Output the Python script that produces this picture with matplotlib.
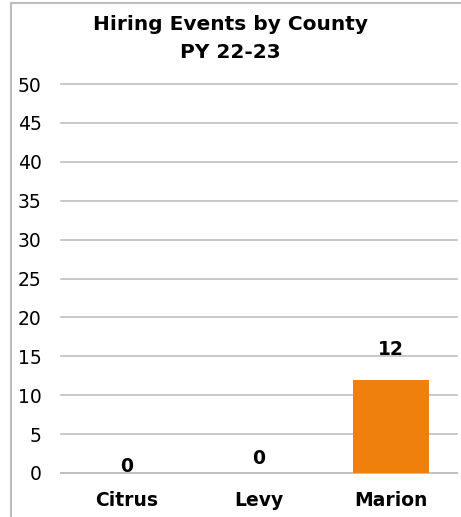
import matplotlib.pyplot as plt
from matplotlib.lines import Line2D

counties = ["Citrus", "Levy", "Marion"]
events = [0, 0, 12]
label_offsets = [6, 15, 30]  # px above bar top, as in the original

bar_color = "#F0800C"
grid_color = "#BFBFBF"

plt.rcParams['font.family'] = ['DejaVu Sans']

fig = plt.figure(figsize=(4.61, 5.17), dpi=100)
ax = fig.add_axes([61/461, 1 - 473/517, 396/461, 389/517])

x = range(len(counties))
ax.bar(x, events, width=0.58, color=bar_color, zorder=3)

ax.set_ylim(0, 50)
ax.set_xlim(-0.5, len(counties) - 0.5)
ax.set_yticks(range(0, 51, 5))
ax.yaxis.grid(True, color=grid_color, linewidth=1.2)
for gl in ax.get_ygridlines():
    gl.set_clip_on(False)
ax.set_axisbelow(True)
for s in ["top", "right", "left"]:
    ax.spines[s].set_visible(False)
ax.spines["bottom"].set_color(grid_color)
ax.spines["bottom"].set_linewidth(1.2)
ax.tick_params(axis="both", length=0, labelsize=13.5, colors="black")
ax.tick_params(axis="y", pad=14)
ax.tick_params(axis="x", pad=13)
ax.set_xticks(list(x))
ax.set_xticklabels(counties, fontweight="bold")

for i, v in enumerate(events):
    ax.annotate(str(v), (i, v), xytext=(0, label_offsets[i] * 72 / 100),
                textcoords="offset points", ha="center", va="center",
                fontsize=13.5, fontweight="bold")

fig.text(0.5, 1 - 25/517, "Hiring Events by County", ha="center", va="center",
         fontsize=14.5, fontweight="bold")
fig.text(0.5, 1 - 52/517, "PY 22-23", ha="center", va="center",
         fontsize=14.5, fontweight="bold")

# outer chart border (top and left visible)
fig.add_artist(Line2D([10.5/461, 1], [1 - 3/517, 1 - 3/517], color="#BDBDBD", linewidth=1.5, transform=fig.transFigure))
fig.add_artist(Line2D([10.5/461, 10.5/461], [0, 1 - 3/517], color="#BDBDBD", linewidth=1.5, transform=fig.transFigure))

fig.savefig("out.png", dpi=100)
